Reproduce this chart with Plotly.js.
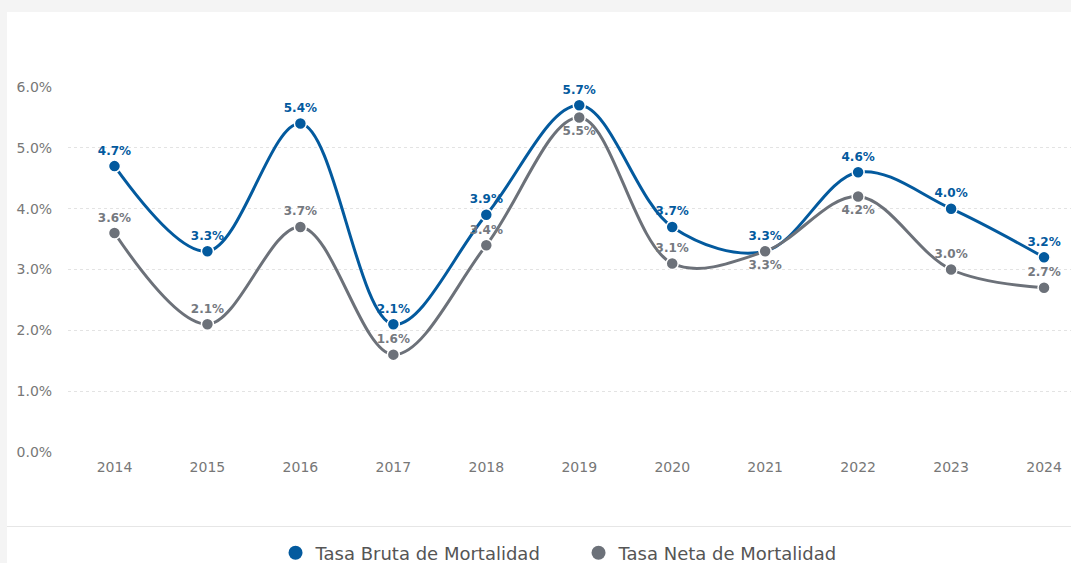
<!DOCTYPE html>
<html>
<head>
<meta charset="utf-8">
<script src="https://cdn.plot.ly/plotly-3.0.1.min.js"></script>
<style>
  html, body { margin: 0; padding: 0; background: #f4f4f4; width: 1071px; height: 563px; overflow: hidden; }
  #card { position: absolute; left: 7px; top: 12px; width: 1064px; height: 551px; background: #ffffff; }
  #chart { width: 1064px; height: 551px; }
  #sep { position: absolute; left: 7px; top: 526px; width: 1064px; height: 1px; background: #e6e6e6; }
</style>
</head>
<body>
<div id="card"><div id="chart"></div></div>
<div id="sep"></div>
<script>
const years = ['2014','2015','2016','2017','2018','2019','2020','2021','2022','2023','2024'];
const tasaBruta = [4.7, 3.3, 5.4, 2.1, 3.9, 5.7, 3.7, 3.3, 4.6, 4.0, 3.2];
const tasaNeta  = [3.6, 2.1, 3.7, 1.6, 3.4, 5.5, 3.1, 3.3, 4.2, 3.0, 2.7];
const netaLabelPos = ['top center','top center','top center','top center','top center','bottom center','top center','bottom center','bottom center','top center','top center'];
const seriesNames = ['Tasa Bruta de Mortalidad', 'Tasa Neta de Mortalidad'];
const yTicks = [0, 1, 2, 3, 4, 5, 6];
const yTickText = ['0.0%','1.0%','2.0%','3.0%','4.0%','5.0%','6.0%'];

const blue = '#035a9e';
const gray = '#6c7179';
const labelFont = 'DejaVu Sans, Verdana, sans-serif';

function lineTrace(y, name, color, textColor, pos) {
  return {
    x: years, y: y, name: name, showlegend: false,
    type: 'scatter', mode: 'lines+markers+text',
    line: {color: color, width: 3, shape: 'spline', smoothing: 1},
    marker: {color: color, size: 12, line: {color: '#ffffff', width: 1.5}},
    text: y.map(v => v.toFixed(1) + '%'),
    textposition: pos,
    textfont: {family: labelFont, size: 12, color: textColor, weight: 'bold'},
    cliponaxis: false
  };
}
function legendTrace(name, color) {
  return {
    x: [null], y: [null], name: name, type: 'scatter', mode: 'markers',
    marker: {color: color, size: 14}, showlegend: true
  };
}

const traces = [
  lineTrace(tasaBruta, seriesNames[0], blue, blue, 'top center'),
  lineTrace(tasaNeta, seriesNames[1], gray, '#75797f', netaLabelPos),
  legendTrace(seriesNames[0], blue),
  legendTrace(seriesNames[1], gray)
];

const layout = {
  width: 1064, height: 551,
  margin: {l: 61, r: 0, t: 75, b: 111, pad: 0, autoexpand: false},
  paper_bgcolor: '#ffffff', plot_bgcolor: '#ffffff',
  font: {family: labelFont, color: '#777777', size: 14},
  showlegend: true,
  legend: {
    orientation: 'h', x: 0.509, xanchor: 'center', y: -0.277, yanchor: 'middle',
    font: {family: labelFont, size: 18, color: '#555555'},
    traceorder: 'normal', itemclick: false,
    entrywidth: 258, entrywidthmode: 'pixels'
  },
  xaxis: {
    type: 'category', range: [-0.5, 10.29],
    showgrid: false, zeroline: false, showline: false,
    ticks: 'outside', ticklen: 2, tickcolor: 'rgba(0,0,0,0)',
    tickfont: {size: 14, color: '#777777'}, fixedrange: true
  },
  yaxis: {
    range: [-0.001, 6.001], tickvals: yTicks, ticktext: yTickText,
    showgrid: true, gridcolor: '#e3e3e3', griddash: 'dot', gridwidth: 1,
    zeroline: false, showline: false,
    ticks: 'outside', ticklen: 12, tickcolor: 'rgba(0,0,0,0)',
    tickfont: {size: 14, color: '#777777'}, fixedrange: true
  }
};

Plotly.newPlot('chart', traces, layout, {displayModeBar: false, staticPlot: true});
</script>
</body>
</html>
